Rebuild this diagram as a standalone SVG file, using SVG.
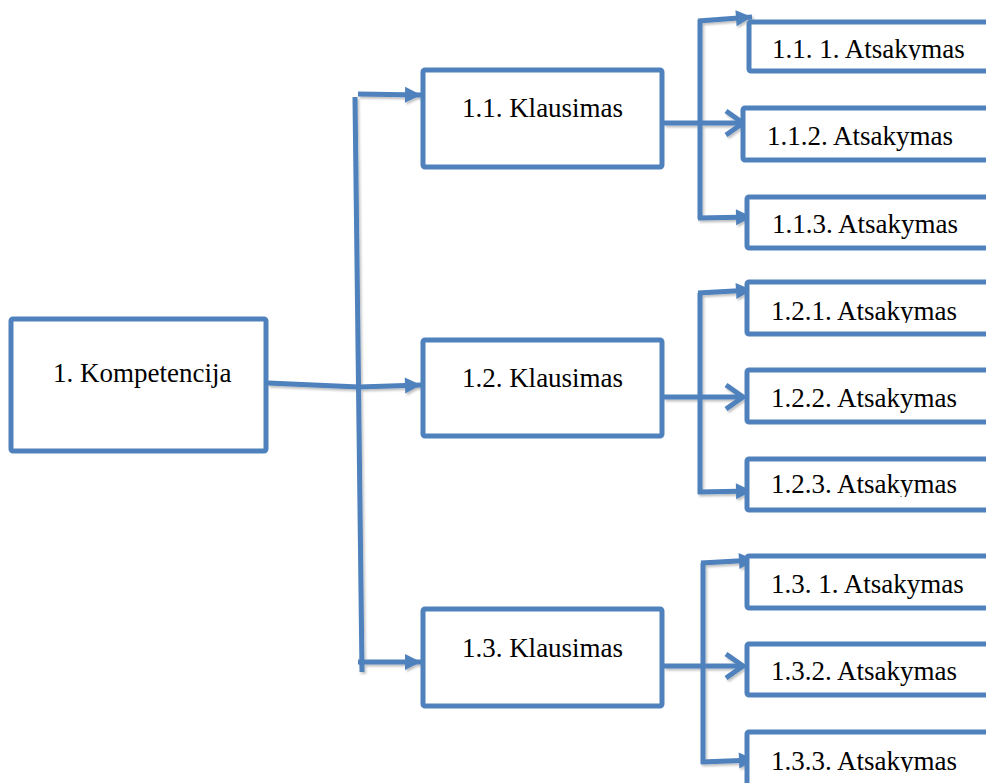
<svg xmlns="http://www.w3.org/2000/svg" width="986" height="783" viewBox="0 0 986 783">
<style>
.box{fill:#fff;stroke:#4F81BD;stroke-width:5;stroke-linejoin:round}
.lbl{font-family:"Liberation Serif","Times New Roman",serif;font-size:27px;fill:#000}
.c{text-anchor:middle}
.ln{fill:none;stroke:#4F81BD;stroke-width:5}
</style>
<defs>
<filter id="sh" x="-10%" y="-10%" width="130%" height="130%">
<feDropShadow dx="1.5" dy="2" stdDeviation="1.2" flood-color="#000" flood-opacity="0.25"/>
</filter>
<marker id="tri" markerUnits="userSpaceOnUse" markerWidth="18" markerHeight="18" refX="16" refY="8" orient="auto" overflow="visible">
<path d="M0,0 L16,8 L0,16 z" fill="#4F81BD"/>
</marker>
<marker id="chev" markerUnits="userSpaceOnUse" markerWidth="24" markerHeight="30" refX="19" refY="13" orient="auto" overflow="visible">
<path d="M2,1 L19,13 L2,25" fill="none" stroke="#4F81BD" stroke-width="5"/>
</marker>
<clipPath id="c111"><rect x="740" y="0" width="260" height="60"/></clipPath>
<clipPath id="c121"><rect x="740" y="270" width="260" height="53"/></clipPath>
<clipPath id="c123"><rect x="740" y="450" width="260" height="47"/></clipPath>
<clipPath id="c133"><rect x="740" y="720" width="260" height="52"/></clipPath>
</defs>

<g id="connectors" filter="url(#sh)">
<path class="ln" d="M355,97 L362,672"/>
<path class="ln" d="M358,94 L421,95" marker-end="url(#tri)"/>
<path class="ln" d="M268,383 L359,387 L421,385" marker-end="url(#tri)"/>
<path class="ln" d="M358,662 L421,662" marker-end="url(#tri)"/>

<path class="ln" d="M700,20 L700,219"/>
<path class="ln" d="M698,21 L752,17" marker-end="url(#tri)"/>
<path class="ln" d="M664,123 L743,123" marker-end="url(#chev)"/>
<path class="ln" d="M698,218 L752,217" marker-end="url(#tri)"/>

<path class="ln" d="M700,293 L700,494"/>
<path class="ln" d="M698,293 L752,290" marker-end="url(#tri)"/>
<path class="ln" d="M664,397 L743,397" marker-end="url(#chev)"/>
<path class="ln" d="M698,492 L752,491" marker-end="url(#tri)"/>

<path class="ln" d="M703,563 L703,764"/>
<path class="ln" d="M701,563 L755,560" marker-end="url(#tri)"/>
<path class="ln" d="M664,666 L743,666" marker-end="url(#chev)"/>
<path class="ln" d="M701,762 L755,760" marker-end="url(#tri)"/>
</g>

<g id="n1">
<rect class="box" x="11" y="319" width="255" height="132" rx="2"/>
<text class="lbl" x="53" y="382">1. Kompetencija</text>
</g>

<g id="q11">
<rect class="box" x="423" y="70" width="239" height="97" rx="2"/>
<text class="lbl c" x="542.5" y="117">1.1. Klausimas</text>
</g>
<g id="q12">
<rect class="box" x="423" y="340" width="239" height="96" rx="2"/>
<text class="lbl c" x="542.5" y="387">1.2. Klausimas</text>
</g>
<g id="q13">
<rect class="box" x="423" y="609" width="239" height="97" rx="2"/>
<text class="lbl c" x="542.5" y="657">1.3. Klausimas</text>
</g>

<g id="a111">
<rect class="box" x="749" y="22" width="260" height="49" rx="2"/>
<text class="lbl" x="772" y="58" clip-path="url(#c111)">1.1. 1. Atsakymas</text>
</g>
<g id="a112">
<rect class="box" x="743" y="108" width="260" height="52" rx="2"/>
<text class="lbl" x="767" y="145">1.1.2. Atsakymas</text>
</g>
<g id="a113">
<rect class="box" x="747" y="197" width="260" height="51" rx="2"/>
<text class="lbl" x="772" y="233">1.1.3. Atsakymas</text>
</g>

<g id="a121">
<rect class="box" x="747" y="282" width="260" height="52" rx="2"/>
<text class="lbl" x="771" y="320" clip-path="url(#c121)">1.2.1. Atsakymas</text>
</g>
<g id="a122">
<rect class="box" x="747" y="370" width="260" height="52" rx="2"/>
<text class="lbl" x="771" y="407">1.2.2. Atsakymas</text>
</g>
<g id="a123">
<rect class="box" x="747" y="459" width="260" height="51" rx="2"/>
<text class="lbl" x="771" y="493" clip-path="url(#c123)">1.2.3. Atsakymas</text>
</g>

<g id="a131">
<rect class="box" x="747" y="556" width="260" height="52" rx="2"/>
<text class="lbl" x="771" y="593">1.3. 1. Atsakymas</text>
</g>
<g id="a132">
<rect class="box" x="747" y="644" width="260" height="51" rx="2"/>
<text class="lbl" x="771" y="680">1.3.2. Atsakymas</text>
</g>
<g id="a133">
<rect class="box" x="747" y="732" width="260" height="60" rx="2"/>
<text class="lbl" x="771" y="770" clip-path="url(#c133)">1.3.3. Atsakymas</text>
</g>
</svg>
